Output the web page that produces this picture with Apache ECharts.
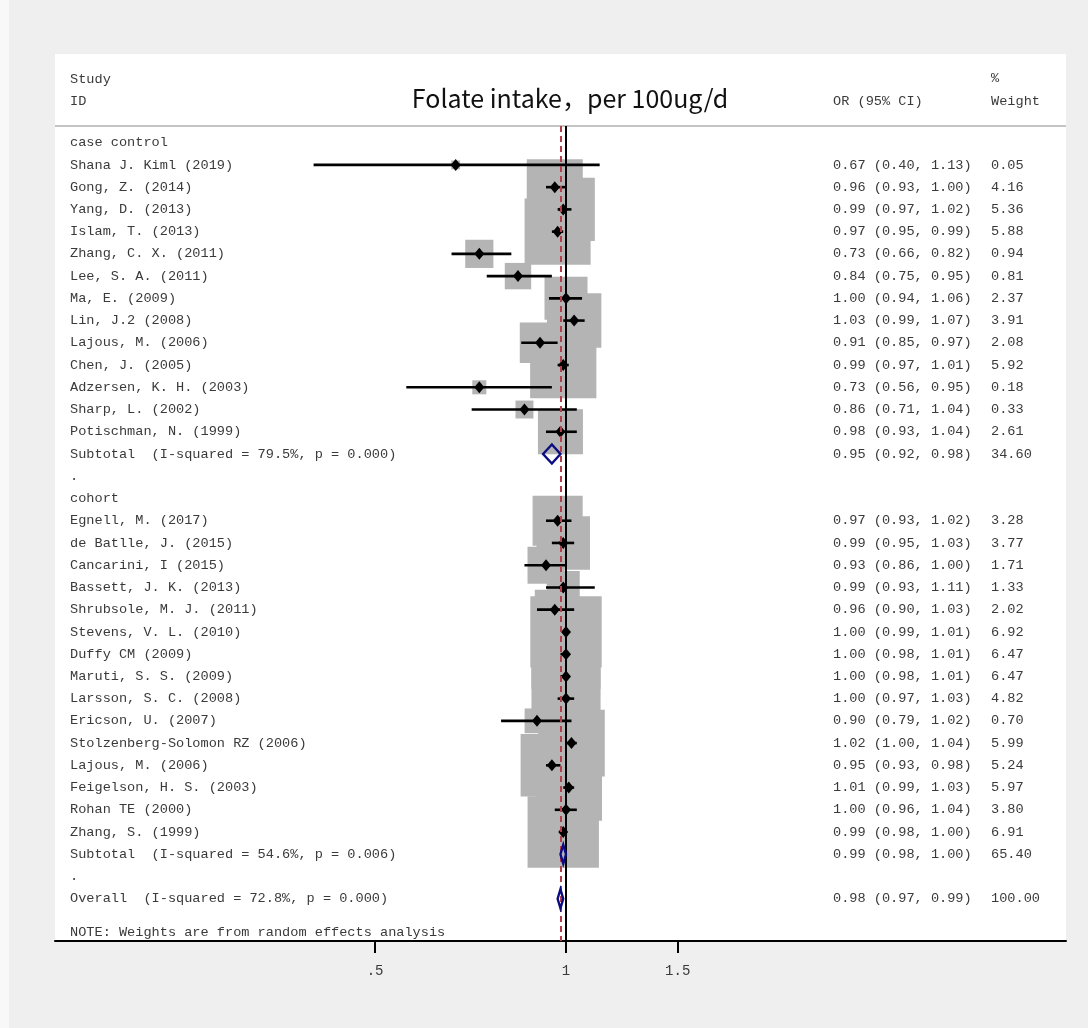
<!DOCTYPE html>
<html>
<head>
<meta charset="utf-8">
<script src="https://cdn.jsdelivr.net/npm/echarts@6/dist/echarts.min.js"></script>
<style>
  html, body { margin: 0; padding: 0; background: #efefef; }
  #chart { width: 1088px; height: 1028px; }
</style>
</head>
<body>
<div id="chart"></div>
<script>
// Forest plot: folate intake (per 100ug/d), odds ratios with 95% CI, random-effects weights.

// Row labels, top to bottom (row index = position in the list; the note sits half a row lower)
const studyLabels = [
  'case control',
  'Shana J. Kiml (2019)',
  'Gong, Z. (2014)',
  'Yang, D. (2013)',
  'Islam, T. (2013)',
  'Zhang, C. X. (2011)',
  'Lee, S. A. (2011)',
  'Ma, E. (2009)',
  'Lin, J.2 (2008)',
  'Lajous, M. (2006)',
  'Chen, J. (2005)',
  'Adzersen, K. H. (2003)',
  'Sharp, L. (2002)',
  'Potischman, N. (1999)',
  'Subtotal  (I-squared = 79.5%, p = 0.000)',
  '.',
  'cohort',
  'Egnell, M. (2017)',
  'de Batlle, J. (2015)',
  'Cancarini, I (2015)',
  'Bassett, J. K. (2013)',
  'Shrubsole, M. J. (2011)',
  'Stevens, V. L. (2010)',
  'Duffy CM (2009)',
  'Maruti, S. S. (2009)',
  'Larsson, S. C. (2008)',
  'Ericson, U. (2007)',
  'Stolzenberg-Solomon RZ (2006)',
  'Lajous, M. (2006)',
  'Feigelson, H. S. (2003)',
  'Rohan TE (2000)',
  'Zhang, S. (1999)',
  'Subtotal  (I-squared = 54.6%, p = 0.006)',
  '.',
  'Overall  (I-squared = 72.8%, p = 0.000)',
  'NOTE: Weights are from random effects analysis'
];

// Vertical position of each row
const rowPositions = [
  0, 1, 2, 3, 4, 5, 6, 7, 8, 9, 10, 11, 12, 13, 14, 15, 16, 17,
  18, 19, 20, 21, 22, 23, 24, 25, 26, 27, 28, 29, 30, 31, 32, 33, 34, 35.5
];

// Row type: g = group heading, s = study, p = pooled estimate, b = spacer, n = note
const rowKinds = [
  'g', 's', 's', 's', 's', 's', 's', 's', 's', 's', 's', 's', 's', 's', 'p', 'b',
  'g', 's', 's', 's', 's', 's', 's', 's', 's', 's', 's', 's', 's', 's', 's', 's', 'p', 'b',
  'p', 'n'
];

const orValues = [
  null, 0.67, 0.96, 0.99, 0.97, 0.73, 0.84, 1.00, 1.03, 0.91, 0.99, 0.73, 0.86, 0.98, 0.95, null,
  null, 0.97, 0.99, 0.93, 0.99, 0.96, 1.00, 1.00, 1.00, 1.00, 0.90, 1.02, 0.95, 1.01, 1.00, 0.99, 0.99, null,
  0.98, null
];
const ciLow = [
  null, 0.40, 0.93, 0.97, 0.95, 0.66, 0.75, 0.94, 0.99, 0.85, 0.97, 0.56, 0.71, 0.93, 0.92, null,
  null, 0.93, 0.95, 0.86, 0.93, 0.90, 0.99, 0.98, 0.98, 0.97, 0.79, 1.00, 0.93, 0.99, 0.96, 0.98, 0.98, null,
  0.97, null
];
const ciHigh = [
  null, 1.13, 1.00, 1.02, 0.99, 0.82, 0.95, 1.06, 1.07, 0.97, 1.01, 0.95, 1.04, 1.04, 0.98, null,
  null, 1.02, 1.03, 1.00, 1.11, 1.03, 1.01, 1.01, 1.01, 1.03, 1.02, 1.04, 0.98, 1.03, 1.04, 1.00, 1.00, null,
  0.99, null
];
const weights = [
  null, 0.05, 4.16, 5.36, 5.88, 0.94, 0.81, 2.37, 3.91, 2.08, 5.92, 0.18, 0.33, 2.61, 34.60, null,
  null, 3.28, 3.77, 1.71, 1.33, 2.02, 6.92, 6.47, 6.47, 4.82, 0.70, 5.99, 5.24, 5.97, 3.80, 6.91, 65.40, null,
  100.00, null
];

// OR axis ticks
const xTickValues = [0.5, 1, 1.5];
const xTickLabels = ['.5', '1', '1.5'];

const OVERALL_ROW = 34;

// ---- build series data (x is plotted on the log scale) ----
const ln = Math.log;
const boxData = [], ciData = [], pointData = [], pooledData = [], textData = [];
studyLabels.forEach((label, i) => {
  const r = rowPositions[i];
  const kind = rowKinds[i];
  textData.push([0, r, i]);
  if (kind === 's') {
    boxData.push([ln(orValues[i]), r, weights[i]]);
    ciData.push([ln(ciLow[i]), ln(ciHigh[i]), r]);
    pointData.push([ln(orValues[i]), r]);
  } else if (kind === 'p') {
    pooledData.push([ln(ciLow[i]), ln(orValues[i]), ln(ciHigh[i]), r]);
  }
});

const MONO = '"Liberation Mono", "DejaVu Sans Mono", monospace';
const TEXT_COLOR = '#3a3a3a';
const NAME_X = 70, OR_X = 833, WEIGHT_X = 991;

function fmt(v) { return v.toFixed(2); }

const chart = echarts.init(document.getElementById('chart'), null, { renderer: 'canvas' });

chart.setOption({
  backgroundColor: '#efefef',
  animation: false,
  graphic: {
    elements: [
      { type: 'rect', z: -5, silent: true, shape: { x: 0, y: 0, width: 9, height: 1028 }, style: { fill: '#f8f8f8' } },
      { type: 'rect', z: -5, silent: true, shape: { x: 55, y: 54, width: 1011, height: 887 }, style: { fill: '#ffffff' } },
      { type: 'line', z: -4, silent: true, shape: { x1: 55, y1: 126, x2: 1066, y2: 126 }, style: { stroke: '#c4c4c4', lineWidth: 2 } },
      { type: 'text', silent: true, style: { x: NAME_X, y: 79, text: 'Study', fill: TEXT_COLOR, fontSize: 13.6, fontFamily: MONO, align: 'left', verticalAlign: 'middle' } },
      { type: 'text', silent: true, style: { x: NAME_X, y: 101, text: 'ID', fill: TEXT_COLOR, fontSize: 13.6, fontFamily: MONO, align: 'left', verticalAlign: 'middle' } },
      { type: 'text', silent: true, style: { x: 570, y: 98, text: 'Folate intake，per 100ug/d', fill: '#111111', fontSize: 25, fontFamily: '"Noto Sans CJK SC", "Noto Sans", sans-serif', align: 'center', verticalAlign: 'middle' } },
      { type: 'text', silent: true, style: { x: OR_X, y: 101, text: 'OR (95% CI)', fill: TEXT_COLOR, fontSize: 13.6, fontFamily: MONO, align: 'left', verticalAlign: 'middle' } },
      { type: 'text', silent: true, style: { x: WEIGHT_X, y: 78, text: '%', fill: TEXT_COLOR, fontSize: 13.6, fontFamily: MONO, align: 'left', verticalAlign: 'middle' } },
      { type: 'text', silent: true, style: { x: WEIGHT_X, y: 101, text: 'Weight', fill: TEXT_COLOR, fontSize: 13.6, fontFamily: MONO, align: 'left', verticalAlign: 'middle' } }
    ]
  },
  grid: { left: 55, right: 22, top: 126, bottom: 87 },
  xAxis: {
    type: 'value',
    min: -1.855,
    max: 1.815,
    axisLine: { show: true, onZero: false, lineStyle: { color: '#000', width: 2 } },
    axisTick: { show: true, customValues: xTickValues.map(ln), length: 12, lineStyle: { color: '#000', width: 2 } },
    axisLabel: {
      customValues: xTickValues.map(ln),
      margin: 23,
      color: TEXT_COLOR,
      fontSize: 14,
      fontFamily: MONO,
      formatter: (v) => {
        const idx = xTickValues.findIndex(t => Math.abs(ln(t) - v) < 1e-9);
        return idx >= 0 ? xTickLabels[idx] : '';
      }
    },
    splitLine: { show: false }
  },
  yAxis: {
    type: 'value',
    inverse: true,
    min: -0.75,
    max: 35.9,
    show: false
  },
  series: [
    {
      // reference lines: null effect and overall pooled estimate
      type: 'scatter',
      name: 'ref',
      z: 1,
      data: [],
      markLine: {
        silent: true,
        symbol: ['none', 'none'],
        label: { show: false },
        animation: false,
        data: [
          { xAxis: 0, lineStyle: { color: '#000000', width: 2, type: 'solid' } },
          { xAxis: ln(orValues[OVERALL_ROW]), lineStyle: { color: '#b5404c', width: 2, type: [6, 4] } }
        ]
      }
    },
    {
      // weight boxes, area proportional to study weight
      type: 'scatter',
      name: 'weight',
      z: 2,
      silent: true,
      symbol: 'rect',
      symbolSize: (v) => 26 * Math.sqrt(v[2]) + 3,
      itemStyle: { color: '#b4b4b4', opacity: 1 },
      data: boxData
    },
    {
      type: 'custom',
      name: 'ci',
      z: 3,
      silent: true,
      data: ciData,
      renderItem: (params, api) => {
        const y = api.value(2);
        const a = api.coord([api.value(0), y]);
        const b = api.coord([api.value(1), y]);
        return { type: 'line', shape: { x1: a[0], y1: a[1], x2: b[0], y2: b[1] }, style: { stroke: '#000', lineWidth: 2.6 } };
      }
    },
    {
      type: 'scatter',
      name: 'OR',
      z: 4,
      silent: true,
      symbol: 'diamond',
      symbolSize: [10, 12],
      itemStyle: { color: '#000', opacity: 1 },
      data: pointData
    },
    {
      type: 'custom',
      name: 'pooled',
      z: 5,
      silent: true,
      data: pooledData,
      renderItem: (params, api) => {
        const y = api.value(3);
        const lo = api.coord([api.value(0), y]);
        const mid = api.coord([api.value(1), y]);
        const hi = api.coord([api.value(2), y]);
        const h = 9.5;
        return {
          type: 'polygon',
          shape: { points: [[lo[0], lo[1]], [mid[0], mid[1] - h], [hi[0], hi[1]], [mid[0], mid[1] + h]] },
          style: { fill: 'none', stroke: '#0c0c82', lineWidth: 2.4 }
        };
      }
    },
    {
      type: 'custom',
      name: 'text',
      z: 6,
      silent: true,
      data: textData,
      renderItem: (params, api) => {
        const i = api.value(2);
        const y = api.coord([0, api.value(1)])[1];
        const base = { fill: TEXT_COLOR, fontSize: 13.6, fontFamily: MONO, align: 'left', verticalAlign: 'middle' };
        const children = [
          { type: 'text', style: Object.assign({ x: NAME_X, y: y, text: studyLabels[i] }, base) }
        ];
        if (orValues[i] != null) {
          children.push({ type: 'text', style: Object.assign({ x: OR_X, y: y, text: fmt(orValues[i]) + ' (' + fmt(ciLow[i]) + ', ' + fmt(ciHigh[i]) + ')' }, base) });
          children.push({ type: 'text', style: Object.assign({ x: WEIGHT_X, y: y, text: fmt(weights[i]) }, base) });
        }
        return { type: 'group', children: children };
      }
    }
  ]
});
</script>
</body>
</html>
